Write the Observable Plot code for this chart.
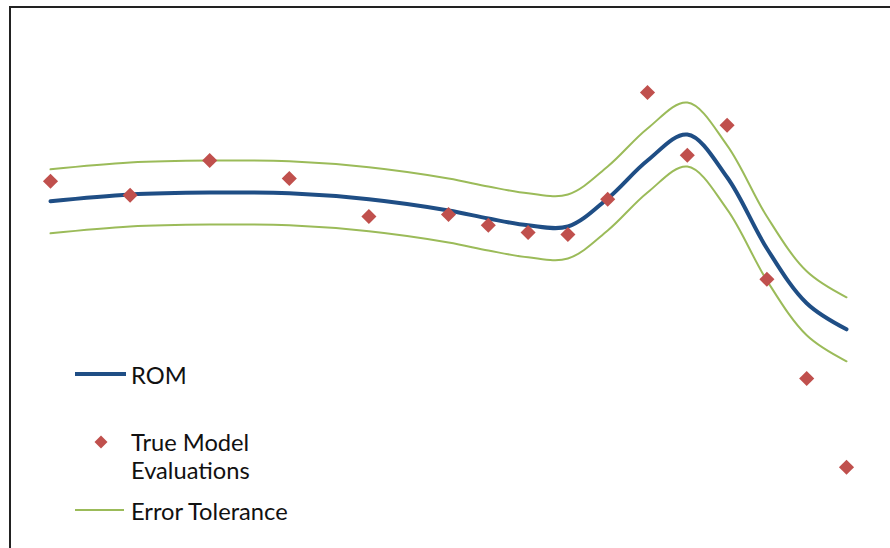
<!DOCTYPE html>
<html>
<head>
<meta charset="utf-8">
<script src="https://cdn.jsdelivr.net/npm/d3@7"></script>
<script src="https://cdn.jsdelivr.net/npm/@observablehq/plot@0.6"></script>
<style>
  html, body { margin: 0; padding: 0; background: #fff; width: 890px; height: 548px; overflow: hidden; }
  #wrap { position: relative; width: 890px; height: 548px; }
  #border { position: absolute; left: 9px; top: 6px; width: 900px; height: 560px; border-left: 2px solid #222; border-top: 2px solid #222; }
  #chart { position: absolute; left: 0; top: 0; }
  #legend { position: absolute; left: 0; top: 0; font-family: Lato, "Open Sans", sans-serif; font-size: 23.7px; color: #111; }
  .item { position: absolute; left: 72px; display: flex; align-items: flex-start; white-space: nowrap; }
  .item svg { flex: none; }
  .item span { margin-left: 3px; line-height: 28px; }
</style>
</head>
<body>
<div id="wrap">
  <div id="border"></div>
  <div id="chart"></div>
  <div id="legend"></div>
</div>
<script>
// Sample positions (input variable) and values (arbitrary units)
const evalX = [0, 2, 4, 6, 8, 10, 11, 12, 13, 14, 15, 16, 17, 18, 19, 20];
const evalY = [7.98, 7.63, 8.5, 8.05, 7.1, 7.15, 6.88, 6.7, 6.65, 7.53, 10.2, 8.63, 9.38, 5.53, 3.05, 0.83];

const romX = [0, 2, 4, 6, 8, 10, 11, 12, 13, 14, 15, 16, 17, 18, 19, 20];
const romY = [7.48, 7.65, 7.7, 7.68, 7.53, 7.25, 7.05, 6.88, 6.85, 7.55, 8.5, 9.15, 8.08, 6.3, 4.93, 4.28];

const tolerance = 0.8;

const seriesNames = ["ROM", "True Model Evaluations", "Error Tolerance"];
const colors = { rom: "#1F4E85", evals: "#C0504D", tol: "#9BBB59" };

const rom = romX.map((x, i) => ({ x, y: romY[i] }));
const upper = romX.map((x, i) => ({ x, y: romY[i] + tolerance }));
const lower = romX.map((x, i) => ({ x, y: romY[i] - tolerance }));
const evals = evalX.map((x, i) => ({ x, y: evalY[i] }));

const chart = Plot.plot({
  width: 890,
  height: 548,
  marginLeft: 50,
  marginRight: 44,
  marginTop: 20,
  marginBottom: 48,
  x: { domain: [0, 20], axis: null },
  y: { domain: [0, 12], axis: null },
  marks: [
    Plot.line(upper, { x: "x", y: "y", stroke: colors.tol, strokeWidth: 2, curve: "catmull-rom" }),
    Plot.line(lower, { x: "x", y: "y", stroke: colors.tol, strokeWidth: 2, curve: "catmull-rom" }),
    Plot.line(rom, { x: "x", y: "y", stroke: colors.rom, strokeWidth: 4, curve: "catmull-rom" }),
    Plot.dot(evals, { x: "x", y: "y", symbol: "diamond2", r: 6.8, fill: colors.evals, stroke: "none" })
  ]
});
document.getElementById("chart").appendChild(chart);

// Legend
const legend = document.getElementById("legend");
function addItem(top, swatch, label) {
  const d = document.createElement("div");
  d.className = "item";
  d.style.top = top + "px";
  d.innerHTML = swatch + "<span>" + label + "</span>";
  legend.appendChild(d);
}
addItem(361, `<svg width="56" height="28"><line x1="3" x2="54" y1="13" y2="13" stroke="${colors.rom}" stroke-width="4"/></svg>`, seriesNames[0]);
addItem(428, `<svg width="56" height="28"><path transform="translate(29,14)" d="M0,-6.5L6.5,0L0,6.5L-6.5,0Z" fill="${colors.evals}"/></svg>`, "True Model<br>Evaluations");
addItem(497, `<svg width="56" height="28"><line x1="3" x2="52" y1="13" y2="13" stroke="${colors.tol}" stroke-width="2"/></svg>`, seriesNames[2]);
</script>
</body>
</html>
